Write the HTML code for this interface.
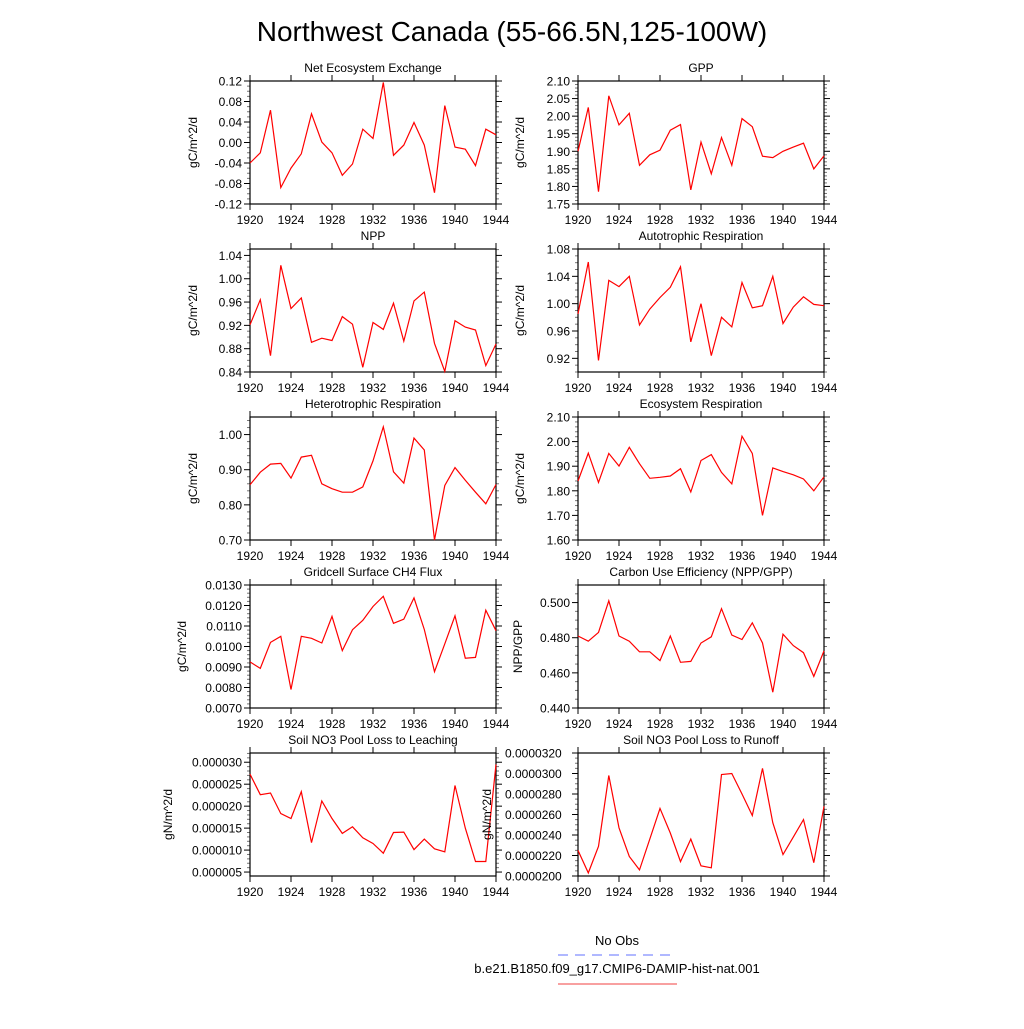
<!DOCTYPE html>
<html><head><meta charset="utf-8"><style>
html,body{margin:0;padding:0;background:#fff;}
svg text{font-family:"Liberation Sans",sans-serif;fill:#000;}
</style></head><body>
<svg id="chart" width="1024" height="1024" viewBox="0 0 1024 1024" xmlns="http://www.w3.org/2000/svg">
<rect width="1024" height="1024" fill="#fff"/>
<text x="512" y="41" font-size="28" text-anchor="middle">Northwest Canada (55-66.5N,125-100W)</text>
<text x="617" y="945" font-size="13" text-anchor="middle">No Obs</text>
<line x1="558" y1="955" x2="677" y2="955" stroke="#6070ff" stroke-width="1" stroke-dasharray="10,7"/>
<text x="617" y="973" font-size="13" text-anchor="middle">b.e21.B1850.f09_g17.CMIP6-DAMIP-hist-nat.001</text>
<line x1="558" y1="984" x2="677" y2="984" stroke="#f04040" stroke-width="1"/>
</svg>
<script>
const years = [1920,1921,1922,1923,1924,1925,1926,1927,1928,1929,1930,1931,1932,1933,1934,1935,1936,1937,1938,1939,1940,1941,1942,1943,1944];
const xTicks = [1920,1924,1928,1932,1936,1940,1944];
const neeValues = [-0.04,-0.02,0.063,-0.088,-0.05,-0.022,0.056,0.001,-0.02,-0.064,-0.042,0.026,0.008,0.117,-0.025,-0.005,0.039,-0.005,-0.098,0.072,-0.009,-0.013,-0.045,0.026,0.015];
const gppValues = [1.90,2.025,1.785,2.058,1.975,2.008,1.86,1.89,1.903,1.96,1.976,1.79,1.926,1.836,1.939,1.86,1.993,1.97,1.886,1.882,1.90,1.912,1.923,1.85,1.887];
const nppValues = [0.921,0.964,0.868,1.023,0.949,0.967,0.891,0.898,0.894,0.935,0.922,0.848,0.925,0.913,0.958,0.893,0.962,0.977,0.889,0.841,0.928,0.917,0.912,0.851,0.888];
const arValues = [0.985,1.061,0.917,1.034,1.025,1.04,0.969,0.992,1.009,1.024,1.054,0.944,1.0,0.924,0.98,0.966,1.031,0.994,0.997,1.04,0.971,0.995,1.01,0.999,0.997];
const hrValues = [0.857,0.893,0.916,0.918,0.876,0.936,0.941,0.86,0.846,0.836,0.836,0.851,0.925,1.022,0.894,0.862,0.99,0.956,0.70,0.855,0.906,0.87,0.836,0.803,0.858];
const erValues = [1.84,1.953,1.834,1.952,1.901,1.977,1.91,1.851,1.855,1.86,1.89,1.795,1.923,1.947,1.875,1.828,2.022,1.952,1.70,1.893,1.878,1.865,1.848,1.80,1.857];
const ch4Values = [0.00925,0.00893,0.0102,0.0105,0.0079,0.0105,0.0104,0.01017,0.01147,0.0098,0.01082,0.01128,0.01195,0.01245,0.01113,0.01133,0.01237,0.01083,0.00877,0.01013,0.0115,0.00943,0.00947,0.01177,0.01077];
const cueValues = [0.481,0.478,0.483,0.501,0.481,0.478,0.472,0.472,0.467,0.481,0.466,0.4665,0.477,0.4805,0.4965,0.4815,0.479,0.4885,0.477,0.449,0.482,0.4755,0.4715,0.458,0.4725];
const leachValues = [0.0000273,0.0000226,0.000023,0.0000183,0.0000172,0.0000233,0.0000117,0.0000212,0.0000172,0.0000138,0.0000153,0.0000128,0.0000115,0.0000093,0.000014,0.0000141,0.0000101,0.0000125,0.0000103,0.0000096,0.0000247,0.000015,0.0000074,0.0000074,0.0000295];
const runoffValues = [0.0000225,0.0000203,0.0000229,0.0000298,0.0000247,0.0000219,0.0000206,0.0000236,0.0000266,0.0000242,0.0000214,0.0000236,0.000021,0.0000208,0.0000299,0.00003,0.000028,0.0000259,0.0000305,0.0000252,0.0000221,0.0000238,0.0000255,0.0000213,0.0000268];
const neeTicks = ["-0.12","-0.08","-0.04","0.00","0.04","0.08","0.12"];
const gppTicks = ["1.75","1.80","1.85","1.90","1.95","2.00","2.05","2.10"];
const nppTicks = ["0.84","0.88","0.92","0.96","1.00","1.04"];
const arTicks = ["0.92","0.96","1.00","1.04","1.08"];
const hrTicks = ["0.70","0.80","0.90","1.00"];
const erTicks = ["1.60","1.70","1.80","1.90","2.00","2.10"];
const ch4Ticks = ["0.0070","0.0080","0.0090","0.0100","0.0110","0.0120","0.0130"];
const cueTicks = ["0.440","0.460","0.480","0.500"];
const leachTicks = ["0.000005","0.000010","0.000015","0.000020","0.000025","0.000030"];
const runoffTicks = ["0.0000200","0.0000220","0.0000240","0.0000260","0.0000280","0.0000300","0.0000320"];

const panels = [
 {name:'nee',title:'Net Ecosystem Exchange',ylab:'gC/m^2/d',vals:neeValues,ticks:neeTicks,ymin:-0.12,ymax:0.12,minor:4,x:250,y:81,labx:197,lx:0},
 {name:'gpp',title:'GPP',ylab:'gC/m^2/d',vals:gppValues,ticks:gppTicks,ymin:1.75,ymax:2.10,minor:5,x:578,y:81,labx:524,lx:0},
 {name:'npp',title:'NPP',ylab:'gC/m^2/d',vals:nppValues,ticks:nppTicks,ymin:0.84,ymax:1.051,minor:4,x:250,y:249,labx:197,lx:0},
 {name:'ar',title:'Autotrophic Respiration',ylab:'gC/m^2/d',vals:arValues,ticks:arTicks,ymin:0.90,ymax:1.08,minor:4,x:578,y:249,labx:524,lx:0},
 {name:'hr',title:'Heterotrophic Respiration',ylab:'gC/m^2/d',vals:hrValues,ticks:hrTicks,ymin:0.70,ymax:1.05,minor:5,x:250,y:417,labx:197,lx:0},
 {name:'er',title:'Ecosystem Respiration',ylab:'gC/m^2/d',vals:erValues,ticks:erTicks,ymin:1.60,ymax:2.10,minor:5,x:578,y:417,labx:524,lx:0},
 {name:'ch4',title:'Gridcell Surface CH4 Flux',ylab:'gC/m^2/d',vals:ch4Values,ticks:ch4Ticks,ymin:0.007,ymax:0.013,minor:5,x:250,y:585,labx:186,lx:0},
 {name:'cue',title:'Carbon Use Efficiency (NPP/GPP)',ylab:'NPP/GPP',vals:cueValues,ticks:cueTicks,ymin:0.44,ymax:0.51,minor:4,x:578,y:585,labx:522,lx:0},
 {name:'leach',title:'Soil NO3 Pool Loss to Leaching',ylab:'gN/m^2/d',vals:leachValues,ticks:leachTicks,ymin:0.0000041,ymax:0.0000321,minor:5,x:250,y:753,labx:172,lx:0},
 {name:'runoff',title:'Soil NO3 Pool Loss to Runoff',ylab:'gN/m^2/d',vals:runoffValues,ticks:runoffTicks,ymin:0.00002,ymax:0.000032,minor:4,x:578,y:753,labx:491,lx:505}
];
const W=246,H=123;
const svg=document.getElementById('chart');
const NS='http://www.w3.org/2000/svg';
function mk(tag,attrs,parent){const e=document.createElementNS(NS,tag);for(const k in attrs)e.setAttribute(k,attrs[k]);parent.appendChild(e);return e;}
panels.forEach(p=>{
 const g=mk('g',{},svg);
 
 
 const xs=v=>p.x+(v-1920)/(1944-1920)*W;
 const ys=v=>p.y+H-(v-p.ymin)/(p.ymax-p.ymin)*H;
 // y ticks
 const tv=p.ticks.map(Number);
 const step=tv[1]-tv[0];
 for(let i=-1;i<tv.length;i++){
  for(let m=1;m<p.minor;m++){
   const v=(i<0?tv[0]-step:tv[i])+step*m/p.minor;
   if(v<p.ymin-1e-12||v>p.ymax+1e-12)continue;
   const yy=ys(v);
   const a=mk('line',{x1:p.x-3,x2:p.x,y1:yy,y2:yy,stroke:'#777','stroke-width':1},g);
   
   
   const b=mk('line',{x1:p.x+W,x2:p.x+W+3,y1:yy,y2:yy,stroke:'#777','stroke-width':1},g);
   
   
  }
 }
 p.ticks.forEach(t=>{
  const yy=ys(Number(t));
  const a=mk('line',{x1:p.x-6,x2:p.x,y1:yy,y2:yy,stroke:'#000','stroke-width':1},g);
  
  
  const b=mk('line',{x1:p.x+W,x2:p.x+W+6,y1:yy,y2:yy,stroke:'#000','stroke-width':1},g);
  
  
  const tx=mk('text',p.lx?{x:p.lx,y:yy+4.5,'font-size':12}:{x:p.x-8,y:yy+4.5,'font-size':12,'text-anchor':'end'},g);
  tx.textContent=t;
  
  
 });
 xTicks.forEach(t=>{
  const xx=xs(t);
  const a=mk('line',{x1:xx,x2:xx,y1:p.y+H,y2:p.y+H+6,stroke:'#000','stroke-width':1},g);
  
  
  const b=mk('line',{x1:xx,x2:xx,y1:p.y-6,y2:p.y,stroke:'#000','stroke-width':1},g);
  
  
  const tx=mk('text',{x:xx,y:p.y+H+20,'font-size':12,'text-anchor':'middle'},g);
  tx.textContent=t;
  
  
 });
 const fr=mk('rect',{x:p.x,y:p.y,width:W,height:H,fill:'none',stroke:'#000','stroke-width':1.2},g);
 
 
 const ti=mk('text',{x:p.x+W/2,y:p.y-9,'font-size':12,'text-anchor':'middle'},g);
 ti.textContent=p.title;
 
 
 const yl=mk('text',{x:0,y:0,'font-size':12,'text-anchor':'middle',transform:'translate('+p.labx+','+(p.y+H/2)+') rotate(-90)'},g);
 yl.textContent=p.ylab;
 
 
 const pts=p.vals.map((v,i)=>xs(years[i]).toFixed(1)+','+ys(v).toFixed(1)).join(' ');
 const ln=mk('polyline',{points:pts,fill:'none',stroke:'#ff0000','stroke-width':1.2},g);
 
 
});
</script>
</body></html>
